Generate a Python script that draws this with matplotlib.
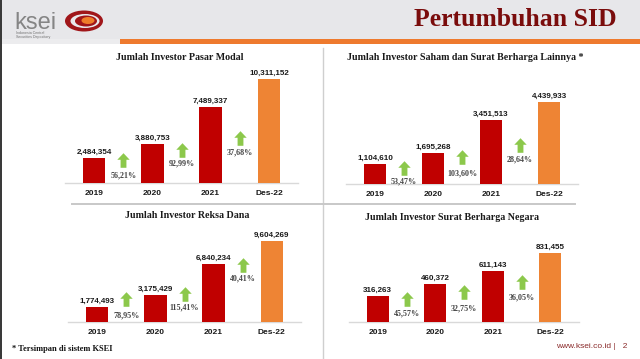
import matplotlib
matplotlib.use("Agg")
import matplotlib.pyplot as plt
from matplotlib.path import Path
from matplotlib import patches

# ---------------- data ----------------
periods = ["2019", "2020", "2021", "Des-22"]

title_pasar_modal = "Jumlah Investor Pasar Modal"
pasar_modal = [2484354, 3880753, 7489337, 10311152]
growth_pasar_modal = ["56,21%", "92,99%", "37,68%"]

title_saham = "Jumlah Investor Saham dan Surat Berharga Lainnya *"
saham = [1104610, 1695268, 3451513, 4439933]
growth_saham = ["53,47%", "103,60%", "28,64%"]

title_reksa = "Jumlah Investor Reksa Dana"
reksa_dana = [1774493, 3175429, 6840234, 9604269]
growth_reksa = ["78,95%", "115,41%", "40,41%"]

title_sbn = "Jumlah Investor Surat Berharga Negara"
sbn = [316263, 460372, 611143, 831455]
growth_sbn = ["45,57%", "32,75%", "36,05%"]

# ---------------- style / layout ----------------
W, H = 640, 359
RED = "#c00000"
ORANGE = "#ee8434"
GREEN = "#8cc84b"
SERIF = ["Liberation Serif", "DejaVu Serif"]
SANS = ["Liberation Sans", "DejaVu Sans"]

fig = plt.figure(figsize=(6.4, 3.59), dpi=100)
fig.patch.set_facecolor("white")

# background axes in pixel coordinates for slide decorations
bg = fig.add_axes([0, 0, 1, 1])
bg.set_xlim(0, W)
bg.set_ylim(H, 0)
bg.axis("off")

# header band
bg.add_patch(patches.Rectangle((0, 0), W, 40, color="#e7e7ea", lw=0, zorder=0))
bg.add_patch(patches.Rectangle((0, 39), 120, 5, color="#ececee", lw=0, zorder=0))
bg.add_patch(patches.Rectangle((120, 39), W - 120, 5, color="#ee7a2e", lw=0, zorder=1))
# left border
bg.add_patch(patches.Rectangle((0, 0), 2.2, H, color="#3a3a3a", lw=0, zorder=2))
# separators
bg.plot([323, 323], [48, H], color="#cfcfcf", lw=1.0)
bg.plot([72, 323], [204, 204], color="#c8c8c8", lw=1.4)
bg.plot([323, 575], [204, 204], color="#c8c8c8", lw=1.4)

# logo
bg.text(14, 29, "ksei", fontsize=17, color="#858585", family=SANS,
        ha="left", va="baseline")
bg.add_patch(patches.Ellipse((84, 21), 38, 21, facecolor="#a0161a", lw=0))
bg.add_patch(patches.Ellipse((85, 21), 29, 14, facecolor="#e9e9ec", lw=0))
bg.add_patch(patches.Ellipse((86, 21), 22, 11, facecolor="#a0161a", lw=0))
bg.add_patch(patches.Ellipse((88, 20.5), 13, 7, facecolor="#ef7d2a", lw=0))
bg.text(16, 33, "Indonesia Central", fontsize=2.6, color="#707070", family=SANS, va="center")
bg.text(16, 37, "Securities Depository", fontsize=2.6, color="#707070", family=SANS, va="center")

# slide title
bg.text(617, 20, "Pertumbuhan SID", fontsize=18.5, fontweight="bold", color="#7a0c0c",
        family=SERIF, ha="right", va="center")

# footer
bg.text(12, 349, "* Tersimpan di sistem KSEI", fontsize=6, fontweight="bold",
        color="#111111", family=SERIF, ha="left", va="center")
bg.text(627, 346, "www.ksei.co.id |   2", fontsize=6, color="#8a2a2a",
        family=SANS, ha="right", va="center")

# arrow marker
arrow_marker = Path(
    [(0, 1), (0.85, 0.1), (0.4, 0.1), (0.4, -1), (-0.4, -1), (-0.4, 0.1),
     (-0.85, 0.1), (0, 1)],
    [Path.MOVETO] + [Path.LINETO] * 6 + [Path.CLOSEPOLY],
)

panels = [
    # title, values, growth, left px, right px, baseline px, max-bar px,
    # title (x, y, ha), arrow heights px, label heights px
    dict(title=title_pasar_modal, values=pasar_modal, growth=growth_pasar_modal,
         left=65, right=298, base=183, barpx=104, tpos=(180, 57, "center"),
         arrow_h=[23, 33, 45], label_h=[8, 20, 31]),
    dict(title=title_saham, values=saham, growth=growth_saham,
         left=346, right=578, base=184, barpx=82, tpos=(347, 57, "left"),
         arrow_h=[16, 27, 39], label_h=[2.5, 11, 25]),
    dict(title=title_reksa, values=reksa_dana, growth=growth_reksa,
         left=68, right=301, base=322, barpx=81, tpos=(187, 216, "center"),
         arrow_h=[23, 28, 57], label_h=[7, 15, 44]),
    dict(title=title_sbn, values=sbn, growth=growth_sbn,
         left=349, right=579, base=322, barpx=69, tpos=(452, 217, "center"),
         arrow_h=[23, 30, 40], label_h=[9, 14, 25]),
]

for p in panels:
    hpx = p["barpx"] + 25
    ax = fig.add_axes([p["left"] / W, 1 - p["base"] / H,
                       (p["right"] - p["left"]) / W, hpx / H])
    ax.set_facecolor("none")
    vals = p["values"]
    ymax = max(vals) * hpx / p["barpx"]
    ax.set_xlim(-0.5, len(vals) - 0.5)
    ax.set_ylim(0, ymax)
    ax.axis("off")
    colors = [RED] * (len(vals) - 1) + [ORANGE]
    xs = list(range(len(vals)))
    ax.bar(xs, vals, width=0.39, color=colors, edgecolor="none", zorder=2)
    ax.axhline(0, color="#d9d9d9", lw=1.0, zorder=1, clip_on=False)
    for x, v, lab in zip(xs, vals, periods):
        ax.annotate(f"{v:,}", (x, v), xytext=(0, 3), textcoords="offset points",
                    ha="center", va="baseline", fontsize=5.8, fontweight="bold",
                    family=SANS, color="#1a1a1a")
        ax.annotate(lab, (x, 0), xytext=(0, -7.3), textcoords="offset points",
                    ha="center", va="center", fontsize=6, fontweight="bold",
                    family=SANS, color="#1a1a1a", annotation_clip=False)
    for i, g in enumerate(p["growth"]):
        xm = i + 0.5
        ya = p["arrow_h"][i] / hpx * ymax
        yl = p["label_h"][i] / hpx * ymax
        ax.plot([xm], [ya], marker=arrow_marker, markersize=10.5, color=GREEN,
                markeredgewidth=0, zorder=3)
        ax.text(xm, yl, g, ha="center", va="center", fontsize=5.8,
                fontweight="bold", family=SERIF, color="#444444", zorder=3)
    tx, ty, tha = p["tpos"]
    bg.text(tx, ty, p["title"], ha=tha, va="center", fontsize=7.2,
            fontweight="bold", family=SERIF, color="#1a1a1a")

fig.savefig("out.png", dpi=100)
